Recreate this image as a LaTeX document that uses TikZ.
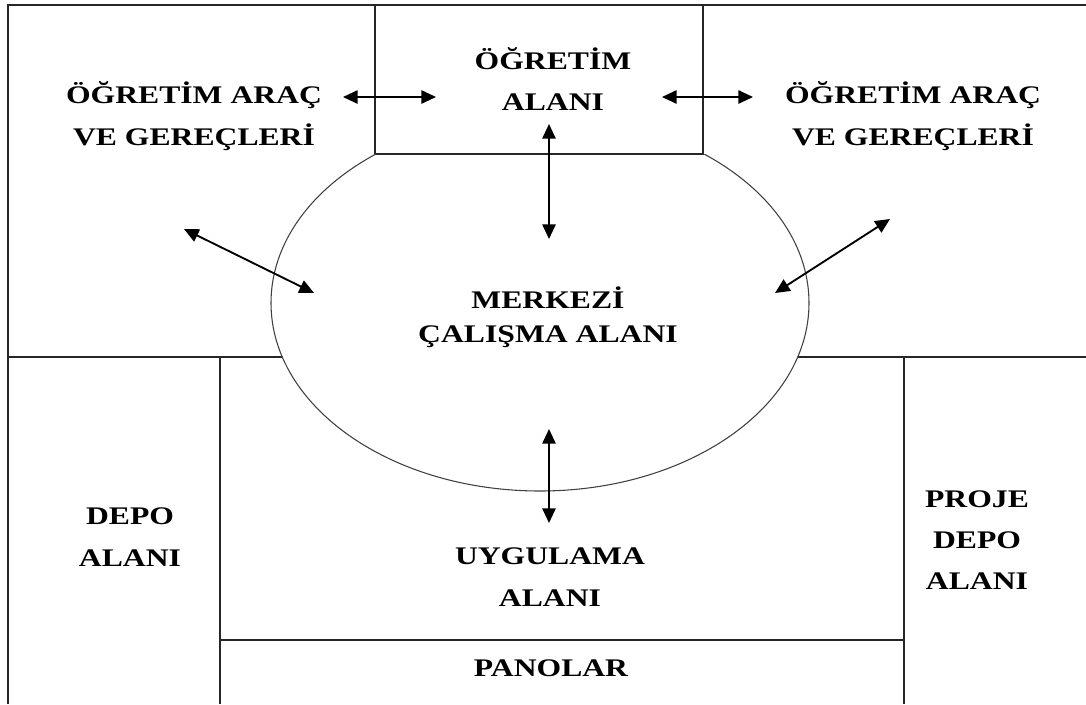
\documentclass[tikz,border=0pt]{standalone}
\usepackage{fontspec}
\setmainfont{Liberation Serif}
\usetikzlibrary{arrows.meta}
\tikzset{
  wall/.style={draw=black!85, line width=1.1pt},
  ring/.style={draw=black!75, line width=0.8pt},
  link/.style={draw=black, line width=1.4pt, {Triangle[length=11pt,width=10pt]}-{Triangle[length=11pt,width=10pt]}},
  label/.style={font=\bfseries\fontsize{19}{31}\selectfont, align=center, xscale=1.25, transform shape, inner sep=0pt},
  tight/.style={font=\bfseries\fontsize{19}{25.5}\selectfont}
}
\begin{document}
\begin{tikzpicture}[x=0.75pt, y=-0.75pt]
\useasboundingbox (0,0) rectangle (1086,704);
\fill[white] (0,0) rectangle (1086,704);

% outer frame and room partitions
\draw[wall] (1086,5) -- (8,5) -- (8,704);
\draw[wall] (375,5) -- (375,154) -- (703,154) -- (703,5);
\draw[wall] (8,357) -- (282.3,357);
\draw[wall] (797.7,357) -- (1086,357);
\draw[wall] (220,357) -- (220,704);
\draw[wall] (904,357) -- (904,704);
\draw[wall] (220,640) -- (904,640);

% central working area (only the part below the teaching area)
\begin{scope}
  \clip (0,154) rectangle (1086,704);
  \draw[ring] (540,303) ellipse [x radius=269, y radius=188];
\end{scope}

% area names
\node[label] (araclarL) at (194,116) {ÖĞRETİM ARAÇ\\VE GEREÇLERİ};
\node[label] (araclarR) at (913,116) {ÖĞRETİM ARAÇ\\VE GEREÇLERİ};
\node[label] (ogretim) at (553,79) {ÖĞRETİM\\ALANI};
\node[label, tight] (merkez) at (548,317) {MERKEZİ\\ÇALIŞMA ALANI};
\node[label] (depo) at (130,537) {DEPO\\ALANI};
\node[label] (proje) at (977,540) {PROJE\\DEPO\\ALANI};
\node[label] (uygulama) at (550,577) {UYGULAMA\\ALANI};
\node[label] (panolar) at (551,668) {PANOLAR};

% ends of the two-way arrows
\coordinate (hl1) at (343,97);  \coordinate (hl2) at (436,97);
\coordinate (hr1) at (662,97);  \coordinate (hr2) at (753,97);
\coordinate (vt1) at (549,124); \coordinate (vt2) at (549,239);
\coordinate (dl1) at (184,229); \coordinate (dl2) at (314,293);
\coordinate (dr1) at (890,219); \coordinate (dr2) at (775,293);
\coordinate (vb1) at (549,429); \coordinate (vb2) at (549,523);

\draw[link] (hl1) -- (hl2);
\draw[link] (hr1) -- (hr2);
\draw[link] (vt1) -- (vt2);
\draw[link] (dl1) -- (dl2);
\draw[link] (dr1) -- (dr2);
\draw[link] (vb1) -- (vb2);
\end{tikzpicture}
\end{document}
